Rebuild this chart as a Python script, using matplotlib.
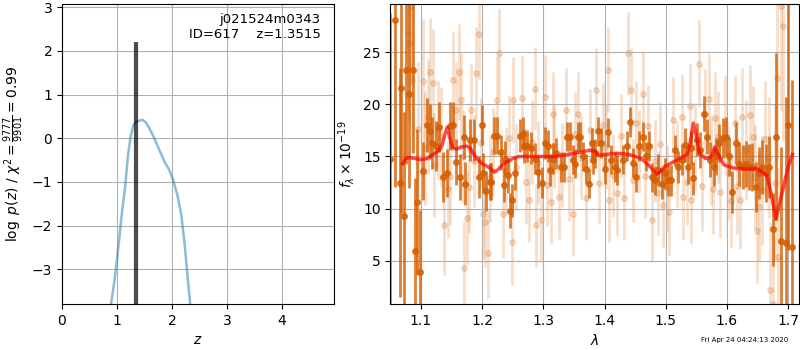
import matplotlib
matplotlib.use("Agg")
import matplotlib.pyplot as plt

# p(z) curve (left panel)
pz_z = [0.88, 0.95, 1.0, 1.05, 1.1, 1.15, 1.2, 1.25, 1.3, 1.35, 1.4, 1.47, 1.52, 1.58,
        1.65, 1.72, 1.8, 1.87, 1.95, 2.02, 2.1, 2.17, 2.23, 2.28, 2.34]
pz_logp = [-3.9, -3.3, -2.8, -2.2, -1.6, -1.1, -0.4, 0.05, 0.3, 0.38, 0.4, 0.42, 0.37, 0.25,
           0.08, -0.12, -0.35, -0.55, -0.72, -0.95, -1.3, -1.75, -2.4, -3.1, -3.9]

# fine-grid spike at best redshift
spike_z = [1.3515, 1.3515]
spike_logp = [-3.9, 2.2]

z_best = 1.3515
obj_root = "j021524m0343"
obj_id = 617

# binned spectrum (dark points)
bin_wave = [1.050, 1.058, 1.065, 1.068, 1.073, 1.076, 1.081, 1.087, 1.091, 1.094, 1.099,
            1.104, 1.109, 1.114, 1.118, 1.125, 1.130, 1.136, 1.142, 1.148, 1.153, 1.158,
            1.164, 1.170, 1.172, 1.180, 1.186, 1.194, 1.199, 1.202, 1.207, 1.212, 1.214,
            1.220, 1.225, 1.231, 1.235, 1.238, 1.242, 1.245, 1.248, 1.254, 1.261, 1.266,
            1.269, 1.274, 1.279, 1.287, 1.292, 1.297, 1.302, 1.307, 1.311, 1.316, 1.321,
            1.328, 1.333, 1.338, 1.344, 1.348, 1.352, 1.356, 1.360, 1.365, 1.370, 1.374,
            1.379, 1.381, 1.385, 1.389, 1.394, 1.400, 1.405, 1.411, 1.417, 1.421, 1.430,
            1.436, 1.441, 1.446, 1.452, 1.457, 1.463, 1.467, 1.472, 1.477, 1.482, 1.487,
            1.493, 1.499, 1.503, 1.508, 1.515, 1.520, 1.526, 1.531, 1.537, 1.542, 1.544,
            1.551, 1.556, 1.562, 1.567, 1.573, 1.578, 1.582, 1.587, 1.593, 1.598, 1.603,
            1.608, 1.614, 1.620, 1.626, 1.631, 1.636, 1.641, 1.647, 1.653, 1.658, 1.664,
            1.669, 1.675, 1.680, 1.688, 1.697, 1.699, 1.706]
bin_flux = [14.8, 28.1, 12.5, 21.6, 9.3, 23.3, 21.0, 23.3, 5.9, 10.6, 3.9,
            13.6, 18.0, 17.4, 16.3, 16.0, 17.8, 13.0, 13.4, 17.9, 18.0, 14.5,
            13.0, 16.9, 12.4, 16.6, 16.6, 13.0, 18.0, 13.4, 11.7, 12.6, 12.6,
            17.0, 17.0, 15.4, 12.3, 14.8, 13.2, 9.8, 10.8, 13.4, 17.0, 17.2,
            16.0, 16.0, 15.8, 14.8, 13.5, 12.5, 16.3, 16.0, 13.7, 14.8, 15.3,
            14.0, 14.0, 16.9, 16.9, 14.7, 14.3, 16.9, 16.9, 15.0, 13.8, 12.4,
            16.3, 14.7, 15.3, 17.4, 16.3, 13.8, 17.3, 14.7, 14.0, 13.7, 14.7,
            16.0, 18.3, 14.4, 13.0, 16.0, 16.9, 15.0, 16.0, 13.0, 12.7, 13.7,
            12.4, 13.4, 12.7, 12.7, 15.6, 14.0, 14.7, 16.1, 14.0, 15.8, 12.9,
            16.6, 15.6, 19.1, 16.9, 14.7, 14.0, 15.0, 16.3, 16.8, 16.9, 15.0,
            11.6, 16.3, 14.3, 14.0, 14.3, 14.0, 14.0, 12.1, 13.4, 14.0, 13.4,
            14.0, 8.0, 16.9, 6.9, 6.7, 18.0, 6.3]
bin_err = [14.0, 16.0, 11.0, 12.0, 10.0, 9.0, 9.0, 8.0, 7.0, 7.0, 6.0,
           2.8, 2.6, 2.6, 2.5, 2.4, 2.4, 2.4, 2.3, 2.3, 2.2, 2.2,
           2.2, 2.1, 2.1, 2.0, 2.0, 2.0, 1.9, 1.9, 1.9, 1.8, 1.8,
           1.8, 1.8, 1.7, 1.7, 1.7, 1.7, 1.7, 1.6, 1.6, 1.6, 1.6,
           1.6, 1.5, 1.5, 1.5, 1.5, 1.5, 1.5, 1.5, 1.5, 1.5, 1.5,
           1.4, 1.4, 1.4, 1.4, 1.4, 1.4, 1.4, 1.4, 1.4, 1.4, 1.4,
           1.4, 1.4, 1.4, 1.4, 1.4, 1.4, 1.4, 1.4, 1.4, 1.4, 1.4,
           1.4, 1.4, 1.4, 1.4, 1.4, 1.4, 1.4, 1.4, 1.4, 1.4, 1.5,
           1.5, 1.5, 1.5, 1.5, 1.5, 1.5, 1.5, 1.6, 1.6, 1.6, 1.6,
           1.6, 1.7, 1.7, 1.7, 1.7, 1.8, 1.8, 1.8, 1.9, 1.9, 1.9,
           2.0, 2.0, 2.1, 2.1, 2.2, 2.2, 2.3, 2.4, 2.5, 2.6, 2.8,
           3.0, 3.5, 8.0, 9.0, 14.0, 12.0, 16.0]

# unbinned spectrum (light points)
raw_wave = [1.078, 1.081, 1.084, 1.086, 1.095, 1.103, 1.106, 1.111, 1.114, 1.119, 1.121,
            1.127, 1.132, 1.138, 1.144, 1.147, 1.153, 1.157, 1.162, 1.165, 1.168, 1.170,
            1.175, 1.178, 1.182, 1.186, 1.190, 1.195, 1.198, 1.201, 1.205, 1.209, 1.212,
            1.218, 1.225, 1.228, 1.234, 1.239, 1.244, 1.248, 1.250, 1.256, 1.265, 1.271,
            1.277, 1.281, 1.286, 1.288, 1.292, 1.296, 1.302, 1.306, 1.313, 1.315, 1.318,
            1.326, 1.331, 1.337, 1.342, 1.348, 1.352, 1.356, 1.362, 1.370, 1.376, 1.386,
            1.391, 1.397, 1.402, 1.405, 1.408, 1.414, 1.421, 1.426, 1.432, 1.438, 1.443,
            1.447, 1.451, 1.457, 1.462, 1.466, 1.471, 1.478, 1.482, 1.487, 1.491, 1.495,
            1.502, 1.506, 1.512, 1.518, 1.526, 1.528, 1.534, 1.539, 1.542, 1.548, 1.555,
            1.559, 1.564, 1.571, 1.574, 1.577, 1.580, 1.585, 1.588, 1.596, 1.601, 1.607,
            1.613, 1.617, 1.621, 1.624, 1.631, 1.638, 1.643, 1.646, 1.649, 1.653, 1.657,
            1.662, 1.668, 1.671, 1.676, 1.679, 1.682, 1.684, 1.689, 1.692]
raw_flux = [26.8, 25.9, 29.4, 22.3, 17.6, 22.2, 15.8, 18.8, 23.1, 22.0, 14.2,
            17.5, 16.9, 8.4, 11.9, 13.1, 22.3, 19.5, 23.1, 20.4, 15.0, 4.3,
            9.1, 12.1, 19.5, 14.6, 23.0, 26.7, 16.3, 9.5, 8.7, 5.7, 12.9,
            15.4, 20.4, 24.9, 9.5, 13.6, 16.8, 6.8, 20.4, 14.0, 20.6, 12.6,
            10.8, 16.4, 21.5, 8.4, 14.4, 8.9, 20.7, 12.3, 10.6, 19.1, 16.0,
            11.1, 14.2, 19.5, 12.8, 9.5, 17.2, 19.1, 14.9, 11.0, 17.5, 21.4,
            12.5, 18.0, 15.9, 23.3, 10.8, 13.2, 11.5, 17.0, 11.0, 24.9, 21.4,
            12.7, 18.2, 15.5, 21.0, 13.1, 17.9, 8.9, 14.6, 11.5, 16.2, 10.3,
            12.0, 9.7, 18.5, 14.3, 18.8, 11.1, 12.6, 19.8, 10.8, 15.9, 23.9,
            12.2, 19.1, 20.5, 14.6, 11.9, 18.7, 16.9, 11.6, 18.2, 13.4, 10.7,
            18.2, 12.2, 10.8, 18.8, 15.6, 19.0, 16.9, 13.0, 7.9, 10.2, 11.8,
            16.7, 14.9, 2.2, 0.9, 12.5, 22.5, 5.4, 29.4, 27.5]
raw_err = [7.5, 7.5, 7.5, 7.0, 6.5, 6.0, 5.5, 5.5, 5.2, 5.2, 5.0,
           4.8, 4.8, 4.8, 4.7, 4.7, 4.6, 4.6, 4.6, 4.5, 4.5, 4.5,
           4.5, 4.4, 4.4, 4.4, 4.4, 4.3, 4.3, 4.3, 4.3, 4.3, 4.2,
           4.2, 4.2, 4.2, 4.2, 4.2, 4.1, 4.1, 4.1, 4.1, 4.1, 4.1,
           4.0, 4.0, 4.0, 4.0, 4.0, 4.0, 4.0, 4.0, 4.0, 4.0, 4.0,
           4.0, 4.0, 4.0, 4.0, 4.0, 4.0, 4.0, 4.0, 4.0, 4.0, 4.0,
           4.0, 4.0, 4.0, 4.0, 4.0, 4.0, 4.0, 4.0, 4.0, 4.0, 4.0,
           4.0, 4.0, 4.0, 4.0, 4.0, 4.0, 4.0, 4.0, 4.0, 4.0, 4.0,
           4.1, 4.1, 4.1, 4.1, 4.1, 4.1, 4.2, 4.2, 4.2, 4.2, 4.2,
           4.3, 4.3, 4.3, 4.3, 4.3, 4.4, 4.4, 4.4, 4.5, 4.5, 4.5,
           4.6, 4.6, 4.7, 4.7, 4.8, 4.8, 4.9, 5.0, 5.0, 5.2, 5.3,
           5.5, 5.8, 6.5, 7.0, 7.5, 8.0, 8.5, 10.0, 11.0]

# best-fit model
model_wave = [1.070, 1.075, 1.080, 1.090, 1.100, 1.110, 1.120, 1.130, 1.135, 1.140, 1.143,
              1.147, 1.152, 1.158, 1.165, 1.175, 1.180, 1.190, 1.200, 1.210, 1.220, 1.225,
              1.235, 1.250, 1.260, 1.280, 1.300, 1.320, 1.340, 1.360, 1.375, 1.385, 1.390,
              1.400, 1.420, 1.440, 1.460, 1.475, 1.485, 1.490, 1.500, 1.520, 1.535, 1.540,
              1.545, 1.550, 1.555, 1.565, 1.575, 1.580, 1.585, 1.595, 1.610, 1.630, 1.650,
              1.665, 1.672, 1.680, 1.690, 1.700, 1.707]
model_flux = [14.3, 14.8, 14.9, 14.8, 14.7, 14.8, 15.2, 15.6, 16.2, 17.3, 17.8,
              16.8, 15.8, 15.7, 15.9, 16.0, 15.8, 14.9, 14.3, 14.0, 13.5, 13.7,
              14.3, 14.8, 15.0, 15.0, 15.0, 15.0, 15.2, 15.4, 15.6, 15.5, 15.1,
              15.2, 15.3, 15.2, 14.8, 14.0, 13.3, 13.5, 14.1, 14.7, 15.2, 16.3,
              18.2, 17.0, 15.3, 14.8, 15.0, 15.9, 15.3, 14.2, 13.9, 13.8, 13.8,
              13.2, 11.5, 9.0, 11.5, 14.0, 15.2]

timestamp = "Fri Apr 24 04:24:13 2020"
spec_color = (0.8352941176470589, 0.3686274509803922, 0.0)

fig = plt.figure(figsize=(8, 3.5), dpi=100)
ax1 = fig.add_axes([0.0775, 0.131, 0.34, 0.857])
ax2 = fig.add_axes([0.488, 0.131, 0.511, 0.857])

# Left: p(z)
ax1.plot(pz_z, pz_logp, color="tab:blue", alpha=0.5, linewidth=1.8)
ax1.plot(spike_z, spike_logp, color="k", alpha=0.7, linewidth=3, solid_capstyle="butt")
ax1.text(0.95, 0.97, f"{obj_root}\nID={obj_id}    z={z_best:.4f}",
         ha="right", va="top", transform=ax1.transAxes, fontsize=9.5)
ax1.set_xlim(0, 4.95)
ax1.set_ylim(-3.8, 3.07)
ax1.set_xticks([0, 1, 2, 3, 4])
ax1.set_yticks([-3, -2, -1, 0, 1, 2, 3])
ax1.set_xlabel(r"$z$")
ax1.set_ylabel(r"$\log\ p(z)$" + " / " + r"$\chi^2=\frac{9777}{9901}=0.99$")
ax1.grid(True)

# Right: spectrum
ax2.errorbar(raw_wave, raw_flux, yerr=raw_err, color=spec_color, alpha=0.2,
             marker="o", markersize=4, linestyle="none", elinewidth=2, zorder=1)
ax2.errorbar(bin_wave, bin_flux, yerr=bin_err, color=spec_color, alpha=0.8,
             marker="o", markersize=4, linestyle="none", elinewidth=2, zorder=2)
ax2.plot(model_wave, model_flux, color="r", alpha=0.7, linewidth=2.5, zorder=3)
ax2.set_xlim(1.05, 1.718)
ax2.set_ylim(0.84, 29.6)
ax2.set_xticks([1.1, 1.2, 1.3, 1.4, 1.5, 1.6, 1.7])
ax2.set_yticks([5, 10, 15, 20, 25])
ax2.set_xlabel(r"$\lambda$")
ax2.set_ylabel(r"$f_\lambda\times10^{-19}$")
ax2.grid(True)

fig.text(0.985, 0.02, timestamp, ha="right", va="bottom", fontsize=5)

fig.savefig("out.png", dpi=100)
